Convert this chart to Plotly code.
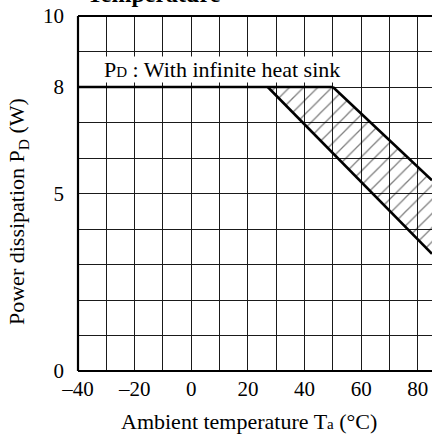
import plotly.graph_objects as go

# Data
flat_x = [-40, 50]          # PD = 8 W up to 50 degC (infinite heat sink)
flat_y = [8, 8]
upper_x = [50, 85]          # upper derating edge
upper_y = [8, 5.37]
lower_x = [27, 85]          # lower derating edge
lower_y = [8, 3.3]

x_ticks = [-40, -30, -20, -10, 0, 10, 20, 30, 40, 50, 60, 70, 80]
x_ticktext = ["–40", "", "–20", "", "0", "", "20", "", "40", "", "60", "", "80"]
y_ticks = [0, 1, 2, 3, 4, 5, 6, 7, 8, 9, 10]
y_ticktext = ["0", "", "", "", "", "5", "", "", "8", "", "10"]

FONT = "Liberation Serif, Times New Roman, serif"
W, H = 432, 435
ML, MR, MT, MB = 78, 0, 16, 64
PW, PH = W - ML - MR, H - MT - MB


def px_x(sx):
    return (sx - ML) / PW


def px_y(sy):
    return (H - MB - sy) / PH


fig = go.Figure()

# hatched band between the two derating edges
band_x = [lower_x[0], upper_x[0], upper_x[1], lower_x[1], lower_x[0]]
band_y = [lower_y[0], upper_y[0], upper_y[1], lower_y[1], lower_y[0]]
fig.add_trace(go.Scatter(
    x=band_x, y=band_y, mode="lines", fill="toself",
    line=dict(width=0, color="rgba(0,0,0,0)"),
    fillcolor="rgba(0,0,0,0)",
    fillpattern=dict(shape="/", fgcolor="black", bgcolor="rgba(0,0,0,0)",
                     size=10, solidity=0.13),
    hoverinfo="skip", showlegend=False))

for xs, ys in [(flat_x, flat_y), (upper_x, upper_y), (lower_x, lower_y)]:
    fig.add_trace(go.Scatter(x=xs, y=ys, mode="lines",
                             line=dict(color="black", width=2.6),
                             showlegend=False, hoverinfo="skip"))

fig.update_layout(
    width=W, height=H,
    margin=dict(l=ML, r=MR, t=MT, b=MB),
    paper_bgcolor="white", plot_bgcolor="white",
    font=dict(family=FONT, size=22, color="black"),
    xaxis=dict(range=[-40, 85], tickvals=x_ticks, ticktext=x_ticktext,
               showgrid=True, gridcolor="#1a1a1a", gridwidth=1,
               zeroline=False, showline=False, ticks="",
               ticklabelstandoff=3, tickfont=dict(size=21)),
    yaxis=dict(range=[0, 10], tickvals=y_ticks, ticktext=y_ticktext,
               showgrid=True, gridcolor="#1a1a1a", gridwidth=1,
               zeroline=False, showline=False, ticks="",
               ticklabelstandoff=13, tickfont=dict(size=21)),
    shapes=[
        dict(type="line", xref="paper", yref="paper", x0=0, x1=0, y0=0, y1=1,
             line=dict(color="black", width=2.2), layer="above"),
        dict(type="line", xref="paper", yref="paper", x0=0, x1=1, y0=0, y1=0,
             line=dict(color="black", width=2.2), layer="above"),
        dict(type="line", xref="paper", yref="paper", x0=0, x1=1, y0=1, y1=1,
             line=dict(color="black", width=2.2), layer="above"),
    ],
    annotations=[
        dict(text="P<span style='font-size:15px'>D</span> : With infinite heat sink",
             x=11.0, y=8, xref="x", yref="y", xanchor="center", yanchor="bottom",
             yshift=4, showarrow=False, bgcolor="white", borderpad=0,
             font=dict(size=22)),
        dict(text="Ambient temperature T<span style='font-size:15px'>a</span> (°C)",
             x=px_x(249), y=px_y(421), xref="paper", yref="paper", showarrow=False,
             xanchor="center", yanchor="middle", font=dict(size=22)),
        dict(text="Power dissipation P<sub>D</sub> (W)",
             x=px_x(18), y=px_y(212), xref="paper", yref="paper",
             showarrow=False, textangle=-90,
             xanchor="center", yanchor="middle", font=dict(size=22)),
        dict(text="<b>Temperature</b>", x=px_x(154), y=px_y(9),
             xref="paper", yref="paper", showarrow=False,
             xanchor="center", yanchor="bottom", font=dict(size=24)),
    ],
)

fig.write_html("out.html",
               config={"displayModeBar": False},
               post_script="document.body.style.margin='0';document.body.style.overflow='hidden';")
